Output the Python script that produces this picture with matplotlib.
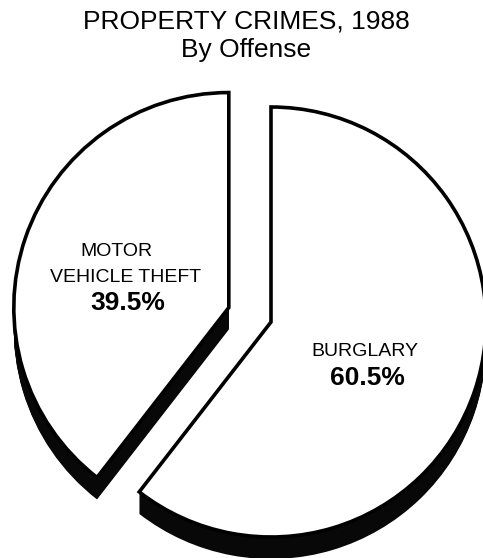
import matplotlib
matplotlib.use("Agg")
import matplotlib.pyplot as plt
from matplotlib.patches import Wedge
import numpy as np

# --- datos ---
categorias = ["BURGLARY", "MOTOR\nVEHICLE THEFT"]
porcentajes = [60.5, 39.5]
titulo = "PROPERTY CRIMES, 1988"
subtitulo = "By Offense"

# --- geometría (en píxeles de la figura, y hacia arriba) ---
W, H = 483, 558
centro = (271, 236)
radio = 215
explosion = [0, 44.6]
profundidad = 22

plt.rcParams['font.family'] = ['Liberation Sans', 'DejaVu Sans']

fig = plt.figure(figsize=(W / 100, H / 100), dpi=100)
ax = fig.add_axes([0, 0, 1, 1])
ax.set_xlim(0, W)
ax.set_ylim(0, H)
ax.set_aspect('equal')
ax.axis('off')

# ángulos: empieza arriba y gira en sentido horario
angulo = 90.0
cuñas = []
for pct, exp in zip(porcentajes, explosion):
    t2 = angulo
    t1 = angulo - pct * 3.6
    medio = np.radians((t1 + t2) / 2)
    cx = centro[0] + exp * np.cos(medio)
    cy = centro[1] + exp * np.sin(medio)
    cuñas.append((cx, cy, t1, t2))
    angulo = t1

for cx, cy, t1, t2 in cuñas:
    # sombra (extrusión hacia abajo)
    for k in range(profundidad + 1):
        ax.add_patch(Wedge((cx, cy - k), radio, t1, t2, facecolor='#080808',
                           edgecolor='none', lw=0))
    # cara superior
    ax.add_patch(Wedge((cx, cy), radio, t1, t2, facecolor='white',
                       edgecolor='black', lw=2.6, joinstyle='miter'))

ax.text(246, H - 22, titulo, ha='center', va='center', fontsize=19)
ax.text(246, H - 50, subtitulo, ha='center', va='center', fontsize=19)

# etiquetas
ax.text(116, H - 251, "MOTOR", ha='center', va='center', fontsize=14)
ax.text(126, H - 277, "VEHICLE THEFT", ha='center', va='center', fontsize=14)
ax.text(128, H - 303, f"{porcentajes[1]}%", ha='center', va='center',
        fontsize=19, fontweight='bold')
ax.text(365, H - 352, categorias[0], ha='center', va='center', fontsize=14)
ax.text(367, H - 378, f"{porcentajes[0]}%", ha='center', va='center',
        fontsize=19, fontweight='bold')

fig.savefig("out.png", dpi=100)
